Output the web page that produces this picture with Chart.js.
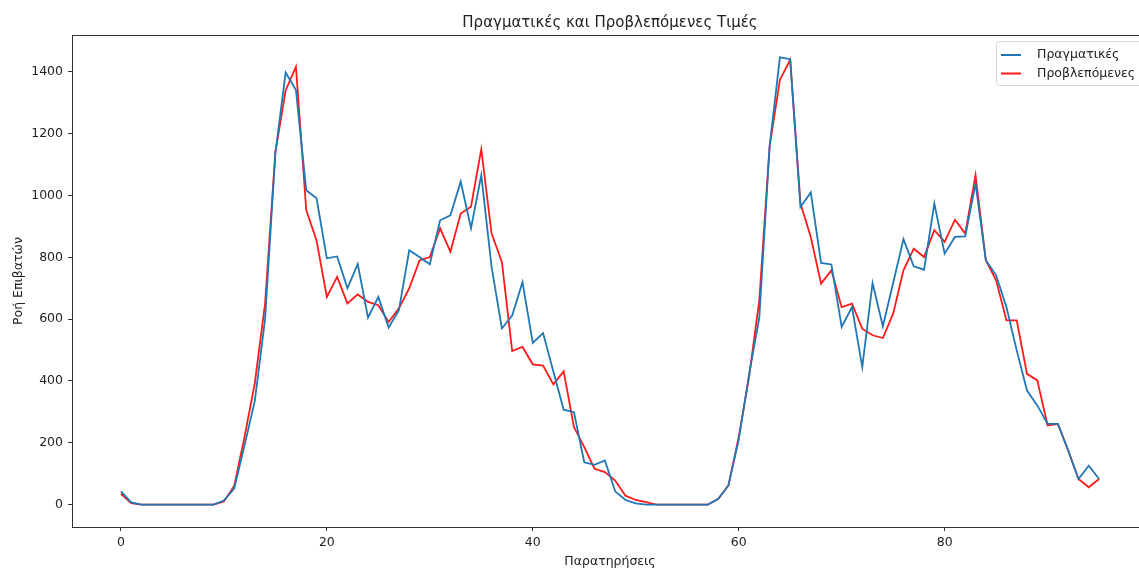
<!DOCTYPE html>
<html>
<head>
<meta charset="utf-8">
<script src="https://cdn.jsdelivr.net/npm/chart.js@4/dist/chart.umd.min.js"></script>
<style>
  html, body { margin: 0; padding: 0; background: #fff; overflow: hidden; }
  #chart { display: block; }
</style>
</head>
<body>
<canvas id="chart" width="1160" height="569"></canvas>
<script>
// Observed vs predicted passenger flow, 96 observations
const actual = [
  43, 7, 0, 0, 0, 0, 0, 0, 0, 0,
  13, 52, 191, 335, 600, 1137, 1398, 1341, 1017, 991,
  797, 803, 700, 778, 605, 672, 573, 629, 823, 801,
  778, 920, 936, 1045, 894, 1066, 769, 570, 612, 720,
  523, 555, 431, 307, 299, 137, 129, 143, 43, 15,
  4, 0, 0, 0, 0, 0, 0, 0, 18, 62,
  210, 420, 605, 1158, 1447, 1441, 963, 1010, 782, 777,
  575, 639, 445, 717, 577, 717, 859, 771, 760, 974,
  812, 866, 868, 1039, 791, 742, 639, 499, 369, 321,
  261, 261, 175, 83, 126, 83
];
const predicted = [
  35, 5, 0, 0, 0, 0, 0, 0, 0, 0,
  10, 60, 218, 392, 650, 1140, 1340, 1417, 953, 855,
  672, 737, 651, 680, 656, 645, 591, 635, 700, 790,
  801, 894, 818, 942, 964, 1150, 877, 785, 497, 510,
  454, 450, 389, 431, 251, 186, 116, 105, 78, 29,
  15, 8, 0, 0, 0, 0, 0, 0, 18, 62,
  218, 412, 661, 1158, 1374, 1439, 974, 866, 715, 758,
  639, 650, 569, 548, 539, 618, 758, 828, 801, 888,
  850, 922, 877, 1066, 791, 726, 596, 596, 423, 402,
  256, 261, 175, 83, 56, 83
];
const xTicks = [0, 20, 40, 60, 80];
const yTicks = [0, 200, 400, 600, 800, 1000, 1200, 1400];

const titleText = 'Πραγματικές και Προβλεπόμενες Τιμές';
const xLabel = 'Παρατηρήσεις';
const yLabel = 'Ροή Επιβατών';
const seriesNames = ['Πραγματικές', 'Προβλεπόμενες'];
const seriesColors = ['#1f77b4', '#ff1a1a'];

const FONT = "'DejaVu Sans', sans-serif";
const canvas = document.getElementById('chart');

const toPoints = arr => arr.map((v, i) => ({ x: i, y: v }));

// frame, title, axis titles and legend drawn by hand
const decorations = {
  id: 'decorations',
  afterDraw(chart) {
    const { ctx, chartArea: a } = chart;
    ctx.save();
    ctx.strokeStyle = '#333';
    ctx.lineWidth = 1;
    ctx.strokeRect(a.left + 0.5, a.top + 0.5, a.right - a.left, a.bottom - a.top);

    const cx = (a.left + a.right) / 2;
    ctx.fillStyle = '#222';
    ctx.textAlign = 'center';
    ctx.textBaseline = 'alphabetic';
    ctx.font = '15px ' + FONT;
    ctx.fillText(titleText, cx, 27);

    ctx.font = '12.5px ' + FONT;
    ctx.fillText(xLabel, cx, 565);

    ctx.save();
    ctx.translate(22, (a.top + a.bottom) / 2);
    ctx.rotate(-Math.PI / 2);
    ctx.fillText(yLabel, 0, 0);
    ctx.restore();

    // legend box, upper right
    const lx = 996.5, ly = 41.5, lw = 152, lh = 44;
    ctx.beginPath();
    ctx.roundRect(lx, ly, lw, lh, 3);
    ctx.fillStyle = 'rgba(255,255,255,0.85)';
    ctx.fill();
    ctx.strokeStyle = '#d6d6d6';
    ctx.stroke();
    ctx.font = '12.5px ' + FONT;
    ctx.textAlign = 'left';
    ctx.textBaseline = 'middle';
    seriesNames.forEach((name, i) => {
      const y = 55 + i * 18.5;
      ctx.beginPath();
      ctx.moveTo(1001, y);
      ctx.lineTo(1021, y);
      ctx.strokeStyle = seriesColors[i];
      ctx.lineWidth = 2;
      ctx.stroke();
      ctx.fillStyle = '#222';
      ctx.fillText(name, 1037, y);
    });
    ctx.restore();
  }
};

new Chart(canvas, {
  type: 'line',
  data: {
    datasets: [
      {
        label: seriesNames[0],
        data: toPoints(actual),
        borderColor: seriesColors[0],
        borderWidth: 1.8,
        pointRadius: 0,
        tension: 0
      },
      {
        label: seriesNames[1],
        data: toPoints(predicted),
        borderColor: seriesColors[1],
        borderWidth: 1.8,
        pointRadius: 0,
        tension: 0
      }
    ]
  },
  options: {
    responsive: false,
    animation: false,
    devicePixelRatio: 1,
    layout: { padding: { top: 35, right: 12, left: 0, bottom: 0 } },
    plugins: {
      legend: { display: false },
      title: { display: false },
      tooltip: { enabled: false }
    },
    scales: {
      x: {
        type: 'linear',
        min: -4.75,
        max: 99.75,
        afterFit: s => { s.height = 42; },
        afterBuildTicks: s => { s.ticks = xTicks.map(v => ({ value: v })); },
        grid: { drawOnChartArea: false, drawTicks: true, tickLength: 4, color: '#333' },
        border: { display: false },
        ticks: { color: '#222', font: { family: FONT, size: 12.5 }, padding: 4, maxRotation: 0,
                 callback: v => String(v) }
      },
      y: {
        type: 'linear',
        min: -72.4,
        max: 1519.4,
        afterFit: s => { s.width = 72; },
        afterBuildTicks: s => { s.ticks = yTicks.map(v => ({ value: v })); },
        grid: { drawOnChartArea: false, drawTicks: true, tickLength: 4, color: '#333' },
        border: { display: false },
        ticks: { color: '#222', font: { family: FONT, size: 12.5 }, padding: 5,
                 callback: v => String(v) }
      }
    }
  },
  plugins: [decorations]
});
</script>
</body>
</html>
